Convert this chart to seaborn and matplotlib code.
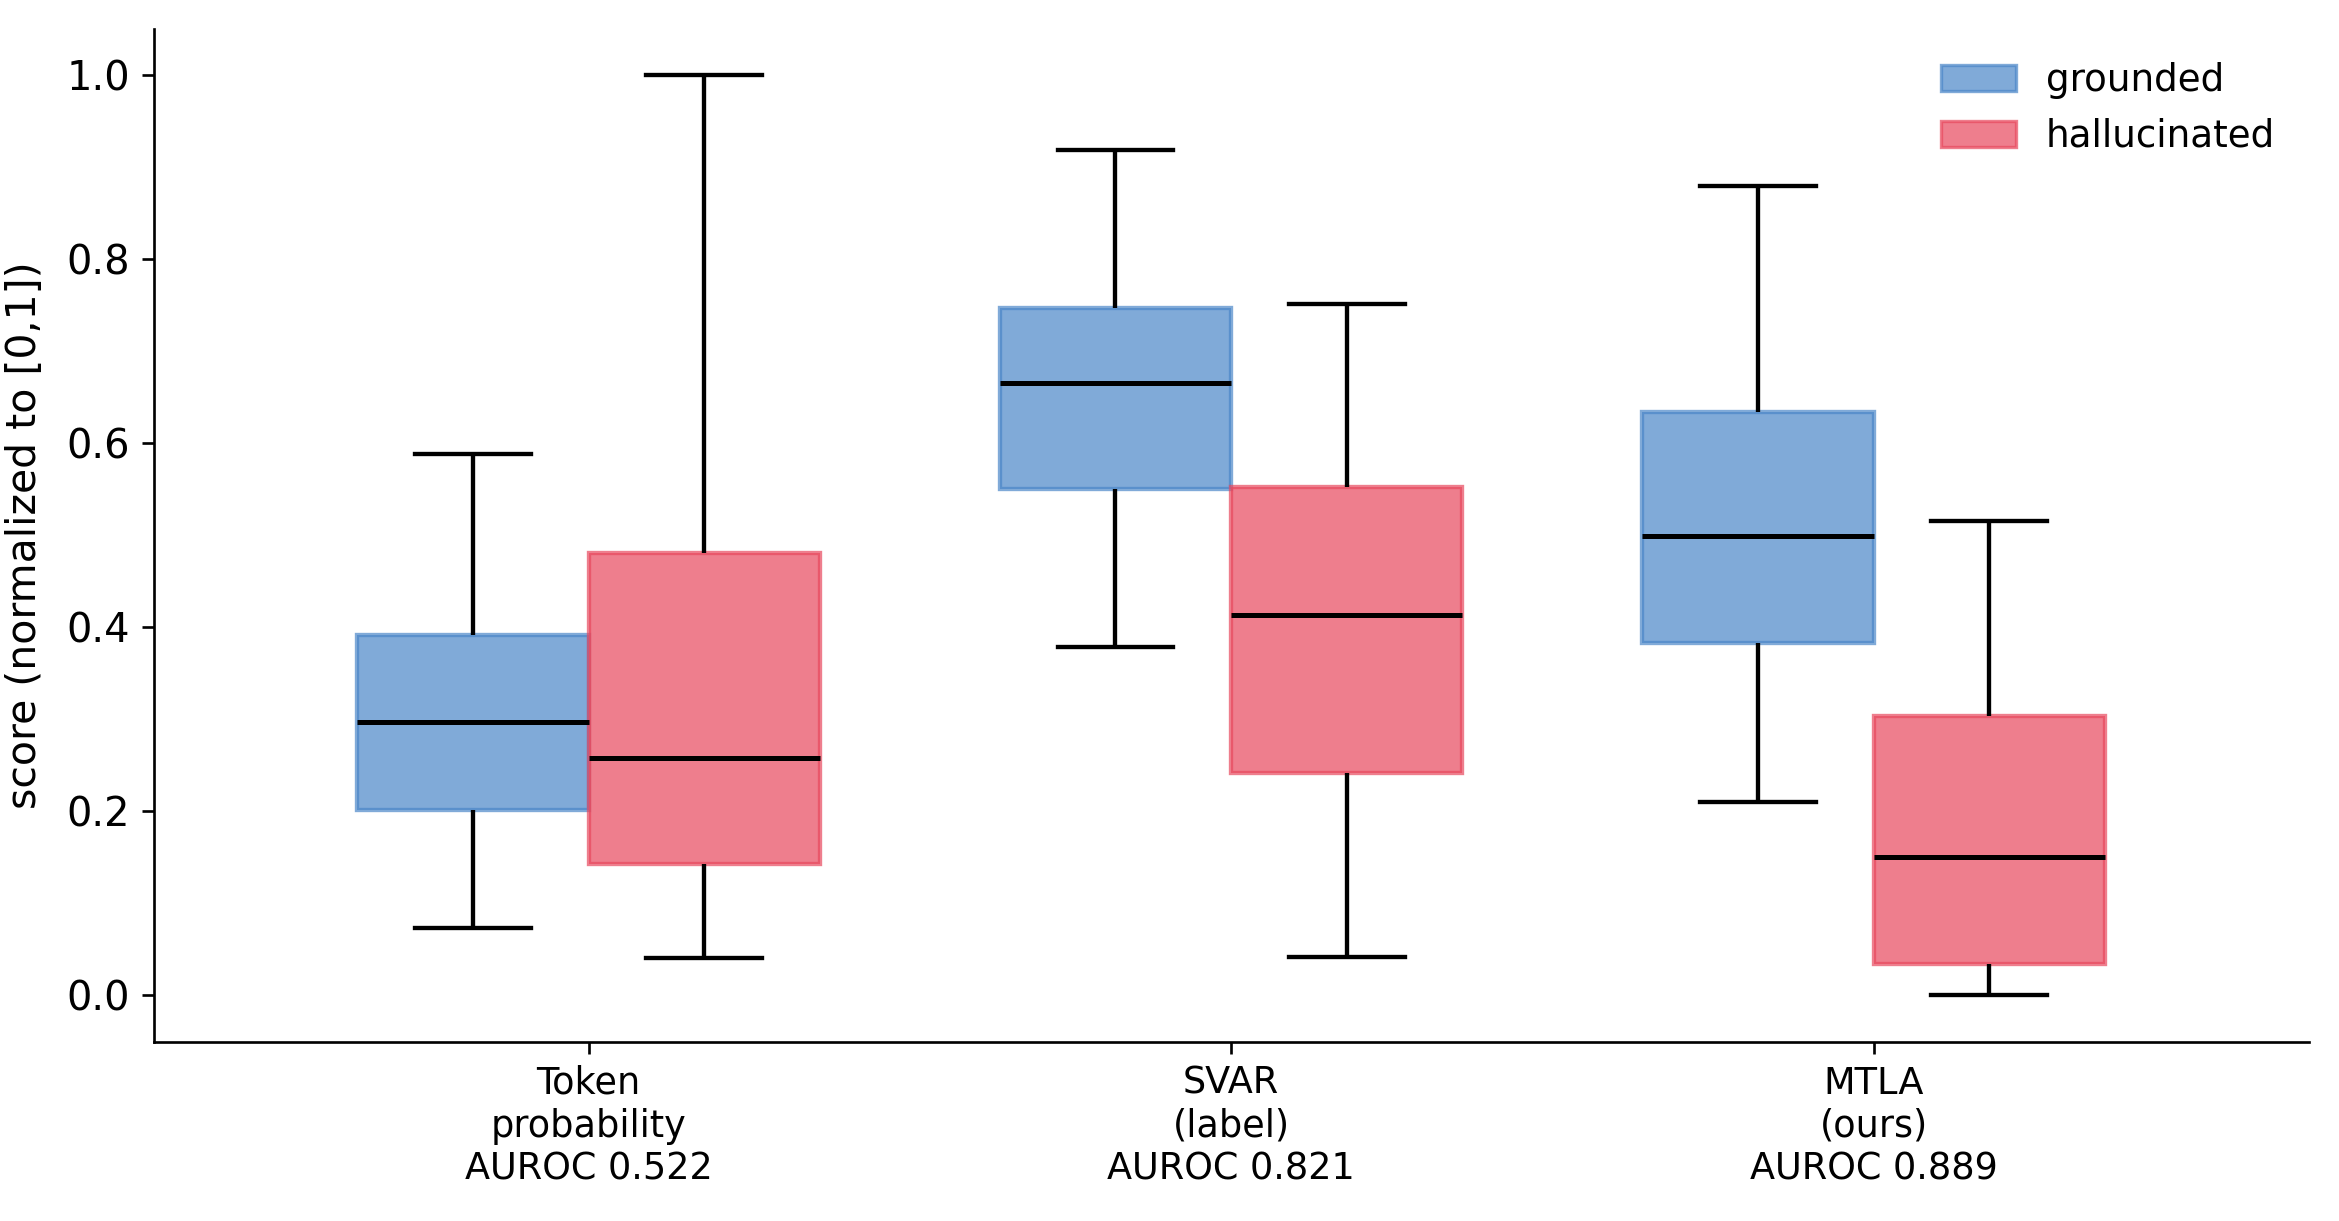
import numpy as np
import pandas as pd
import matplotlib
matplotlib.use("Agg")
import matplotlib.pyplot as plt
import seaborn as sns
from matplotlib.patches import Patch

# ---- data ----
methods = ["Token\nprobability", "SVAR\n(label)", "MTLA\n(ours)"]
auroc = ["0.522", "0.821", "0.889"]
groups = ["grounded", "hallucinated"]
# five-number summaries: lower whisker, Q1, median, Q3, upper whisker
grounded_stats = [
    [0.073, 0.201, 0.297, 0.391, 0.588],
    [0.378, 0.550, 0.665, 0.747, 0.918],
    [0.210, 0.383, 0.499, 0.634, 0.879],
]
hallucinated_stats = [
    [0.041, 0.143, 0.258, 0.481, 1.000],
    [0.042, 0.242, 0.413, 0.552, 0.751],
    [0.000, 0.034, 0.150, 0.303, 0.515],
]
colors = ["#4A86C8", "#E8485D"]

labels = [f"{m}\nAUROC {a}" for m, a in zip(methods, auroc)]
rows = []
for lab, gs, hs in zip(labels, grounded_stats, hallucinated_stats):
    for v in gs:
        rows.append({"method": lab, "group": groups[0], "score": v})
    for v in hs:
        rows.append({"method": lab, "group": groups[1], "score": v})
df = pd.DataFrame(rows)

plt.rcParams["font.family"] = ["DejaVu Sans"]
plt.rcParams["font.size"] = 11

fig = plt.figure(figsize=(2339 / 240, 1221 / 240), dpi=240)
ax = fig.add_axes([0.0657, 0.147, 0.987 - 0.0657, 0.9766 - 0.147])

sns.boxplot(data=df, x="method", y="score", hue="group", order=labels,
            hue_order=groups, palette=colors, saturation=1, width=0.72, gap=0,
            whis=(0, 100), linecolor="black", linewidth=1.3, legend=False,
            medianprops={"linewidth": 1.5}, ax=ax)

for p in ax.patches:
    fc = p.get_facecolor()
    p.set_edgecolor(fc[:3])
    p.set_alpha(0.7)

handles = [Patch(facecolor=c, edgecolor=c, alpha=0.7, label=g) for c, g in zip(colors, groups)]
ax.legend(handles=handles, loc="upper right", frameon=False, fontsize=11.2)

ax.set_xlim(-0.677, 2.677)
ax.set_ylim(-0.05, 1.05)
ax.set_yticks([0.0, 0.2, 0.4, 0.6, 0.8, 1.0])
ax.set_xlabel("")
ax.set_ylabel("score (normalized to [0,1])", fontsize=12.3, labelpad=6.5)
ax.tick_params(axis="x", labelsize=11)
ax.tick_params(axis="y", labelsize=12)
sns.despine(ax=ax)

fig.savefig("out.png", dpi=240)
